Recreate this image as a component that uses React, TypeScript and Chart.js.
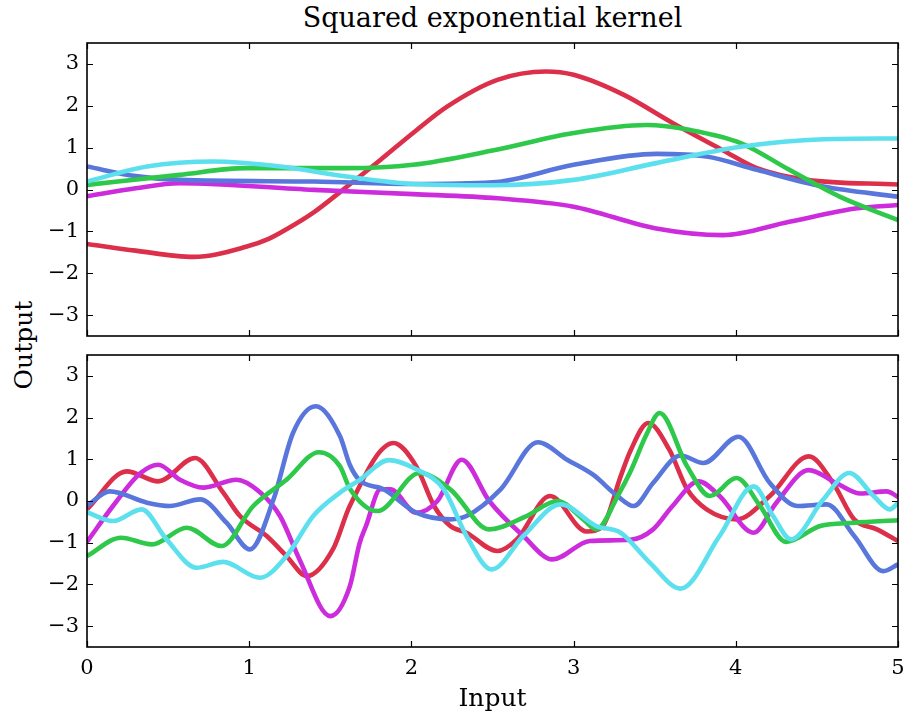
import React, { useEffect, useRef } from "react";
import { Chart, registerables } from "chart.js";

Chart.register(...registerables);

// ---------- Data ----------
const xTickValues = [0, 1, 2, 3, 4, 5];
const yTickValues = [-3, -2, -1, 0, 1, 2, 3];

const colors = {
  red: "#DC2F4A",
  green: "#2EC84A",
  blue: "#5876DC",
  cyan: "#5CE0EE",
  magenta: "#CC2CDC",
};

// Top panel (long length-scale samples)
const topRedX = [0, 0.3, 0.655, 0.98, 1.12, 1.23, 1.4, 1.58, 1.81, 2.01, 2.22, 2.53, 2.83, 3.0, 3.31, 3.61, 3.92, 4.13, 4.44, 5.0];
const topRedY = [-1.3, -1.46, -1.61, -1.37, -1.18, -0.95, -0.54, 0.0, 0.71, 1.35, 1.98, 2.62, 2.82, 2.74, 2.26, 1.59, 0.94, 0.51, 0.23, 0.12];
const topGreenX = [0, 0.57, 0.98, 1.6, 2.01, 2.5, 3.0, 3.45, 3.72, 4.03, 4.33, 4.64, 5.0];
const topGreenY = [0.11, 0.35, 0.51, 0.51, 0.59, 0.93, 1.35, 1.54, 1.42, 1.11, 0.47, -0.17, -0.73];
const topBlueX = [0, 0.3, 0.57, 1.4, 2.01, 2.5, 3.0, 3.51, 3.82, 4.13, 4.54, 5.0];
const topBlueY = [0.55, 0.32, 0.23, 0.19, 0.13, 0.17, 0.59, 0.85, 0.79, 0.47, 0.07, -0.17];
const topCyanX = [0, 0.37, 0.78, 1.19, 1.6, 2.01, 2.5, 3.0, 3.51, 4.03, 4.54, 5.0];
const topCyanY = [0.19, 0.55, 0.67, 0.55, 0.31, 0.13, 0.1, 0.23, 0.63, 1.02, 1.2, 1.22];
const topMagentaX = [0, 0.3, 0.57, 1.4, 2.01, 2.53, 3.0, 3.51, 3.92, 4.33, 4.75, 5.0];
const topMagentaY = [-0.16, 0.03, 0.15, -0.01, -0.11, -0.21, -0.41, -0.93, -1.09, -0.77, -0.45, -0.37];

// Bottom panel (short length-scale samples)
const botRedX = [0, 0.245, 0.44, 0.666, 0.84, 0.943, 1.108, 1.23, 1.355, 1.52, 1.62, 1.89, 2.03, 2.14, 2.24, 2.34, 2.53, 2.65, 2.855, 3.08, 3.18, 3.29, 3.35, 3.46, 3.59, 3.7, 3.82, 4.005, 4.21, 4.45, 4.6, 4.73, 4.87, 5.0];
const botRedY = [-0.2, 0.71, 0.47, 1.03, 0.2, -0.36, -0.84, -1.32, -1.8, -1.13, -0.12, 1.39, 0.83, -0.12, -0.6, -0.76, -1.2, -0.92, 0.12, -0.73, -0.6, 0.59, 1.2, 1.87, 1.23, 0.28, -0.2, -0.44, 0.12, 1.07, 0.43, -0.44, -0.68, -0.96];
const botBlueX = [0, 0.14, 0.37, 0.51, 0.697, 0.86, 1.005, 1.15, 1.27, 1.41, 1.56, 1.62, 1.68, 1.83, 2.03, 2.24, 2.34, 2.55, 2.78, 2.96, 3.12, 3.27, 3.37, 3.49, 3.66, 3.8, 4.016, 4.21, 4.38, 4.56, 4.73, 4.91, 5.0];
const botBlueY = [-0.12, 0.23, -0.04, -0.12, 0.04, -0.52, -1.16, 0.04, 1.63, 2.27, 1.55, 0.87, 0.5, 0.28, -0.28, -0.44, -0.36, 0.28, 1.41, 0.99, 0.63, 0.12, -0.12, 0.43, 1.09, 0.91, 1.54, 0.43, -0.12, -0.08, -0.84, -1.68, -1.52];
const botGreenX = [0, 0.21, 0.4, 0.615, 0.83, 1.025, 1.23, 1.43, 1.56, 1.62, 1.79, 2.05, 2.24, 2.48, 2.71, 2.9, 3.06, 3.14, 3.28, 3.35, 3.45, 3.53, 3.7, 3.84, 4.005, 4.15, 4.31, 4.52, 4.73, 5.0];
const botGreenY = [-1.32, -0.88, -1.04, -0.64, -1.08, -0.12, 0.51, 1.17, 0.83, 0.3, -0.24, 0.67, 0.28, -0.68, -0.36, 0.0, -0.44, -0.68, 0.18, 0.7, 1.6, 2.11, 0.83, 0.12, 0.55, -0.12, -0.98, -0.6, -0.52, -0.46];
const botMagentaX = [0, 0.16, 0.33, 0.44, 0.573, 0.72, 0.92, 1.07, 1.19, 1.31, 1.5, 1.62, 1.68, 1.72, 1.81, 1.87, 2.03, 2.16, 2.31, 2.48, 2.69, 2.87, 3.1, 3.35, 3.49, 3.61, 3.77, 3.9, 4.11, 4.25, 4.45, 4.62, 4.77, 4.93, 5.0];
const botMagentaY = [-0.98, -0.12, 0.67, 0.87, 0.51, 0.32, 0.51, 0.2, -0.36, -1.4, -2.76, -2.05, -1.02, -0.6, 0.28, 0.28, -0.28, 0.0, 0.99, 0.0, -0.84, -1.4, -0.96, -0.93, -0.68, -0.12, 0.47, 0.12, -0.76, -0.04, 0.74, 0.43, 0.18, 0.23, 0.1];
const botCyanX = [0, 0.16, 0.337, 0.49, 0.676, 0.84, 1.066, 1.23, 1.395, 1.56, 1.68, 1.86, 2.03, 2.2, 2.34, 2.495, 2.69, 2.92, 3.14, 3.29, 3.47, 3.66, 3.9, 4.11, 4.23, 4.34, 4.54, 4.7, 4.85, 4.95, 5.0];
const botCyanY = [-0.27, -0.48, -0.2, -0.92, -1.6, -1.46, -1.84, -1.32, -0.36, 0.2, 0.5, 0.98, 0.76, 0.28, -0.84, -1.64, -0.84, -0.08, -0.6, -0.76, -1.48, -2.1, -0.84, 0.35, -0.36, -0.92, 0.04, 0.67, 0.12, -0.2, -0.05];

const titleText = "Squared exponential kernel";
const xTitleText = "Input";
const yTitleText = "Output";

// ---------- Helpers ----------
const FONT = "'DejaVu Serif', serif";

const pts = (xs: number[], ys: number[]) => xs.map((x, i) => ({ x, y: ys[i] }));

const mkSet = (xs: number[], ys: number[], color: string) => ({
  data: pts(xs, ys),
  borderColor: color,
  backgroundColor: color,
  borderWidth: 4.6,
  pointRadius: 0,
  cubicInterpolationMode: "monotone" as const,
  fill: false,
});

const fmt = (v: number) => (v < 0 ? "\u2212" + Math.abs(v) : String(v));

const framePlugin = {
  id: "frame",
  afterDatasetsDraw(chart: any) {
    const { ctx, chartArea, scales } = chart;
    const { left, right, top, bottom } = chartArea;
    ctx.save();
    ctx.strokeStyle = "#000";
    ctx.lineWidth = 1.2;
    const tl = 6;
    ctx.beginPath();
    yTickValues.forEach((v) => {
      const y = Math.round(scales.y.getPixelForValue(v)) + 0.5;
      ctx.moveTo(left, y);
      ctx.lineTo(left + tl, y);
      ctx.moveTo(right, y);
      ctx.lineTo(right - tl, y);
    });
    xTickValues.forEach((v) => {
      const x = Math.round(scales.x.getPixelForValue(v)) + 0.5;
      ctx.moveTo(x, top);
      ctx.lineTo(x, top + tl);
      ctx.moveTo(x, bottom);
      ctx.lineTo(x, bottom - tl);
    });
    ctx.stroke();
    ctx.lineWidth = 1.6;
    ctx.strokeRect(left, top, right - left, bottom - top);
    ctx.restore();
  },
};

function makeOptions(showX: boolean, padTop: number, padBottom: number) {
  return {
    responsive: false,
    animation: false as const,
    layout: { padding: { top: padTop, bottom: padBottom, left: 0, right: 8 } },
    plugins: { legend: { display: false }, tooltip: { enabled: false }, title: { display: false } },
    scales: {
      x: {
        type: "linear" as const,
        min: 0,
        max: 5,
        display: showX,
        grid: { display: false, drawTicks: false },
        border: { display: false },
        afterBuildTicks: (s: any) => {
          s.ticks = xTickValues.map((v) => ({ value: v }));
        },
        afterFit: (s: any) => {
          if (showX) s.height = 73;
          s.paddingLeft = 0;
          s.paddingRight = 0;
        },
        ticks: {
          padding: 9,
          color: "#000",
          font: { family: FONT, size: 21 },
          maxRotation: 0,
          callback: (v: any) => fmt(Number(v)),
        },
        title: {
          display: showX,
          text: xTitleText,
          color: "#000",
          font: { family: FONT, size: 25 },
          padding: { top: 0, bottom: 6 },
        },
      },
      y: {
        type: "linear" as const,
        min: -3.5,
        max: 3.5,
        grid: { display: false, drawTicks: false },
        border: { display: false },
        afterBuildTicks: (s: any) => {
          s.ticks = yTickValues.map((v) => ({ value: v }));
        },
        afterFit: (s: any) => {
          s.width = 87;
          s.paddingTop = 0;
          s.paddingBottom = 0;
        },
        ticks: {
          padding: 8,
          color: "#000",
          font: { family: FONT, size: 21 },
          callback: (v: any) => fmt(Number(v)),
        },
      },
    },
  };
}

function Panel({ top, height, showX, padTop, padBottom, sets }: any) {
  const ref = useRef<HTMLCanvasElement | null>(null);
  useEffect(() => {
    if (!ref.current) return;
    const chart = new Chart(ref.current, {
      type: "line",
      data: { datasets: sets },
      options: makeOptions(showX, padTop, padBottom) as any,
      plugins: [framePlugin],
    });
    return () => chart.destroy();
  }, []);
  return (
    <canvas
      ref={ref}
      width={906}
      height={height}
      style={{ position: "absolute", left: 0, top, width: 906, height }}
    />
  );
}

export default function App() {
  useEffect(() => {
    document.body.style.margin = "0";
  }, []);

  // dataset index 0 is drawn on top
  const topSets = [
    mkSet(topCyanX, topCyanY, colors.cyan),
    mkSet(topGreenX, topGreenY, colors.green),
    mkSet(topBlueX, topBlueY, colors.blue),
    mkSet(topMagentaX, topMagentaY, colors.magenta),
    mkSet(topRedX, topRedY, colors.red),
  ];
  const botSets = [
    mkSet(botCyanX, botCyanY, colors.cyan),
    mkSet(botGreenX, botGreenY, colors.green),
    mkSet(botBlueX, botBlueY, colors.blue),
    mkSet(botMagentaX, botMagentaY, colors.magenta),
    mkSet(botRedX, botRedY, colors.red),
  ];

  return (
    <div style={{ position: "relative", width: 906, height: 720, background: "#fff", overflow: "hidden" }}>
      <div
        style={{
          position: "absolute",
          left: 87,
          width: 811,
          top: 2,
          textAlign: "center",
          fontFamily: FONT,
          fontSize: 27,
          lineHeight: "32px",
          color: "#000",
        }}
      >
        {titleText}
      </div>
      <div
        style={{
          position: "absolute",
          left: 24,
          top: 345,
          transform: "translate(-50%, -50%) rotate(-90deg)",
          fontFamily: FONT,
          fontSize: 25,
          lineHeight: "30px",
          color: "#000",
          whiteSpace: "nowrap",
        }}
      >
        {yTitleText}
      </div>
      <Panel top={0} height={345} showX={false} padTop={43} padBottom={9} sets={topSets} />
      <Panel top={345} height={375} showX={true} padTop={10} padBottom={0} sets={botSets} />
    </div>
  );
}
